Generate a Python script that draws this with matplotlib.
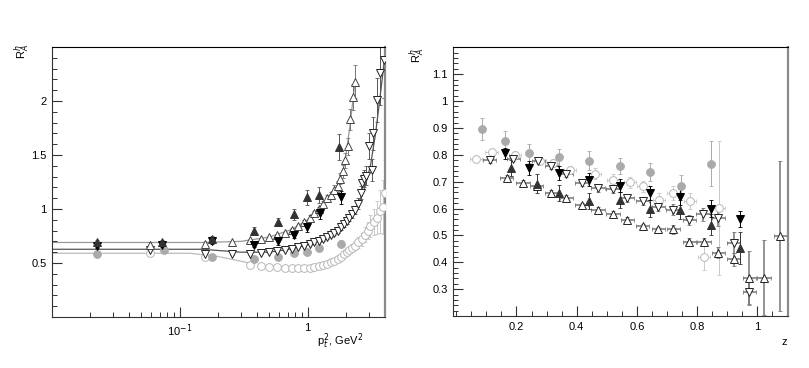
import numpy as np
import matplotlib
matplotlib.use("Agg")
import matplotlib.pyplot as plt
from matplotlib.ticker import MultipleLocator, LogLocator, NullFormatter

plt.rcParams['font.family'] = ['Liberation Sans', 'DejaVu Sans']

# ---- left panel: R_A^h vs pt^2 ----
pt2_fill = [0.0225, 0.072, 0.18, 0.38, 0.585, 0.785, 0.995, 1.22, 1.75]
upf_l = [0.69, 0.69, 0.72, 0.80, 0.88, 0.95, 1.11, 1.13, 1.57]
upf_l_err = [0.02, 0.02, 0.03, 0.03, 0.04, 0.05, 0.07, 0.07, 0.12]
pt2_dnf = [0.0225, 0.072, 0.18, 0.38, 0.585, 0.785, 0.995, 1.24, 1.82]
dnf_l = [0.66, 0.67, 0.70, 0.67, 0.70, 0.76, 0.83, 0.96, 1.11]
dnf_l_err = [0.02, 0.02, 0.02, 0.02, 0.03, 0.03, 0.04, 0.05, 0.06]
pt2_circf = [0.0225, 0.075, 0.18, 0.38, 0.585, 0.785, 0.995, 1.22, 1.82]
circf_l = [0.58, 0.62, 0.56, 0.54, 0.56, 0.59, 0.60, 0.64, 0.68]
circf_l_err = [0.02, 0.02, 0.02, 0.02, 0.02, 0.02, 0.02, 0.03, 0.03]

pt2_upo = [0.058, 0.158, 0.255, 0.357, 0.43, 0.50, 0.58, 0.66, 0.75, 0.84, 0.94,
           1.04, 1.13, 1.22, 1.32, 1.42, 1.52, 1.62, 1.72, 1.80, 1.88, 1.96,
           2.07, 2.16, 2.26, 2.36]
upo_l = [0.665, 0.68, 0.69, 0.71, 0.72, 0.74, 0.76, 0.78, 0.81, 0.84, 0.88,
         0.92, 0.96, 1.00, 1.05, 1.10, 1.13, 1.18, 1.21, 1.28, 1.35, 1.45,
         1.58, 1.83, 2.04, 2.18]
upo_l_err = [0.03, 0.01, 0.01, 0.01, 0.01, 0.01, 0.01, 0.01, 0.01, 0.015, 0.015,
             0.02, 0.02, 0.02, 0.025, 0.03, 0.03, 0.04, 0.05, 0.05, 0.06, 0.07,
             0.08, 0.10, 0.12, 0.15]

pt2_dno = [0.058, 0.158, 0.255, 0.357, 0.43, 0.50, 0.58, 0.66, 0.75, 0.84, 0.94,
           1.04, 1.13, 1.22, 1.32, 1.42, 1.52, 1.62, 1.72, 1.82, 1.92, 2.02,
           2.12, 2.22, 2.35, 2.5, 2.6, 2.68, 2.77, 2.88, 3.0, 3.18, 3.25,
           3.49, 3.70, 3.93]
dno_l = [0.62, 0.585, 0.58, 0.585, 0.59, 0.60, 0.61, 0.62, 0.63, 0.645, 0.66,
         0.675, 0.69, 0.705, 0.72, 0.74, 0.76, 0.78, 0.80, 0.83, 0.86, 0.89,
         0.92, 0.95, 0.99, 1.05, 1.15, 1.24, 1.28, 1.31, 1.58, 1.36, 1.70,
         2.01, 2.26, 2.38]
dno_l_err = [0.03, 0.01, 0.01, 0.01, 0.01, 0.01, 0.01, 0.01, 0.01, 0.01, 0.01,
             0.01, 0.01, 0.015, 0.015, 0.015, 0.02, 0.02, 0.02, 0.02, 0.025, 0.03,
             0.03, 0.035, 0.04, 0.05, 0.06, 0.07, 0.08, 0.09, 0.12, 0.1, 0.15,
             0.2, 0.3, 0.35]

pt2_circo = [0.058, 0.158, 0.357, 0.43, 0.5, 0.58, 0.66, 0.75, 0.84, 0.94, 1.04,
             1.13, 1.22, 1.32, 1.42, 1.52, 1.62, 1.72, 1.82, 1.92, 2.02, 2.12,
             2.22, 2.35, 2.5, 2.65, 2.8, 2.95, 3.1, 3.3, 3.5, 3.7, 3.9, 4.0]
circo_l = [0.59, 0.56, 0.48, 0.47, 0.465, 0.46, 0.455, 0.45, 0.45, 0.45, 0.455,
           0.46, 0.47, 0.48, 0.49, 0.51, 0.52, 0.54, 0.56, 0.58, 0.60, 0.62,
           0.64, 0.66, 0.69, 0.72, 0.76, 0.80, 0.84, 0.88, 0.92, 0.98, 1.02, 1.15]
circo_l_err = [0.02, 0.01, 0.01, 0.01, 0.01, 0.01, 0.01, 0.01, 0.01, 0.01, 0.01,
               0.01, 0.01, 0.01, 0.015, 0.015, 0.02, 0.02, 0.02, 0.025, 0.03, 0.03,
               0.035, 0.04, 0.05, 0.06, 0.07, 0.08, 0.1, 0.12, 0.15, 0.2, 0.25, 0.3]

# fit curves
fit_up_x = [0.01, 0.15, 0.3, 0.5, 0.75, 1.0, 1.25, 1.5, 1.75, 1.95, 2.15, 2.36]
fit_up_y = [0.69, 0.69, 0.70, 0.74, 0.81, 0.90, 1.01, 1.12, 1.24, 1.42, 1.78, 2.2]
fit_dn_x = [0.01, 0.15, 0.3, 0.5, 0.75, 1.0, 1.5, 2.0, 2.5, 2.8, 3.1, 3.4, 3.7, 4.0]
fit_dn_y = [0.627, 0.627, 0.60, 0.60, 0.63, 0.67, 0.76, 0.88, 1.05, 1.2, 1.4, 1.7, 2.05, 2.4]
fit_ci_x = [0.01, 0.12, 0.2, 0.35]
fit_ci_y = [0.59, 0.59, 0.56, 0.5]

# ---- right panel: R_A^h vs z ----
z_circf = [0.087, 0.161, 0.242, 0.342, 0.442, 0.545, 0.645, 0.745, 0.847]
circf_r = [0.896, 0.852, 0.806, 0.79, 0.778, 0.757, 0.736, 0.685, 0.767]
circf_r_err = [0.04, 0.035, 0.035, 0.03, 0.035, 0.03, 0.035, 0.04, 0.085]

z_dnf = [0.161, 0.242, 0.342, 0.442, 0.545, 0.645, 0.743, 0.845, 0.942]
dnf_r = [0.806, 0.75, 0.732, 0.707, 0.685, 0.658, 0.642, 0.60, 0.56]
dnf_r_err = [0.02, 0.025, 0.025, 0.025, 0.025, 0.025, 0.03, 0.03, 0.03]

z_upf = [0.183, 0.267, 0.342, 0.442, 0.545, 0.643, 0.743, 0.845, 0.942]
upf_r = [0.75, 0.693, 0.658, 0.627, 0.633, 0.60, 0.596, 0.54, 0.454]
upf_r_err = [0.03, 0.035, 0.03, 0.03, 0.03, 0.03, 0.035, 0.04, 0.06]

z_circo = [0.067, 0.117, 0.194, 0.278, 0.32, 0.377, 0.46, 0.522, 0.576, 0.62,
           0.672, 0.72, 0.776, 0.822, 0.872]
circo_r = [0.784, 0.812, 0.80, 0.778, 0.77, 0.744, 0.73, 0.707, 0.698, 0.683,
           0.633, 0.658, 0.627, 0.42, 0.603]
circo_r_err = [0.01, 0.01, 0.015, 0.015, 0.015, 0.015, 0.02, 0.02, 0.02, 0.02,
               0.025, 0.025, 0.03, 0.05, 0.25]

z_dno = [0.111, 0.19, 0.272, 0.316, 0.366, 0.416, 0.471, 0.521, 0.568, 0.619,
         0.671, 0.719, 0.774, 0.82, 0.87, 0.922, 0.973]
dno_r = [0.779, 0.785, 0.778, 0.757, 0.728, 0.695, 0.678, 0.673, 0.64, 0.627,
         0.606, 0.596, 0.557, 0.578, 0.566, 0.473, 0.29]
dno_r_err = [0.01, 0.01, 0.01, 0.01, 0.01, 0.01, 0.015, 0.015, 0.015, 0.015,
             0.015, 0.02, 0.02, 0.025, 0.03, 0.04, 0.05]

z_upo = [0.167, 0.222, 0.267, 0.316, 0.366, 0.416, 0.471, 0.521, 0.568, 0.619,
         0.671, 0.721, 0.774, 0.823, 0.87, 0.922, 0.973, 1.022, 1.076]
upo_r = [0.714, 0.695, 0.683, 0.658, 0.64, 0.612, 0.596, 0.581, 0.559, 0.534,
         0.522, 0.522, 0.475, 0.475, 0.436, 0.411, 0.343, 0.343, 0.497]
upo_r_err = [0.01, 0.01, 0.01, 0.01, 0.01, 0.01, 0.01, 0.01, 0.01, 0.01,
             0.01, 0.015, 0.015, 0.015, 0.02, 0.025, 0.1, 0.14, 0.28]

fig = plt.figure(figsize=(8.09, 3.68), dpi=100)
axL = fig.add_axes([0.0643, 0.1386, 0.4116, 0.7337])
axR = fig.add_axes([0.5603, 0.1413, 0.4141, 0.7302])

ms = 5.6
def pts(ax, x, y, err, marker, face, edge, ecol, xerr=None, lw=0.7):
    ax.errorbar(x, y, yerr=err, xerr=xerr, fmt='none', ecolor=ecol, elinewidth=lw,
                capsize=1.3, capthick=0.6, zorder=2)
    ax.plot(x, y, linestyle='none', marker=marker, ms=ms, mfc=face, mec=edge,
            mew=0.7, zorder=3)

# left panel
axL.plot(fit_up_x, fit_up_y, color='#999999', lw=0.9, zorder=1)
axL.plot(fit_dn_x, fit_dn_y, color='#555555', lw=0.9, zorder=1)
axL.plot(fit_ci_x, fit_ci_y, color='#bbbbbb', lw=0.9, zorder=1)
pts(axL, pt2_circo, circo_l, circo_l_err, 'o', 'white', '#b8b8b8', '#c8c8c8')
pts(axL, pt2_circf, circf_l, circf_l_err, 'o', '#aaaaaa', '#aaaaaa', '#aaaaaa')
pts(axL, pt2_dno, dno_l, dno_l_err, 'v', 'white', '#222222', '#555555')
pts(axL, pt2_upo, upo_l, upo_l_err, '^', 'white', '#444444', '#777777')
pts(axL, pt2_dnf, dnf_l, dnf_l_err, 'v', '#000000', '#000000', '#000000')
pts(axL, pt2_fill, upf_l, upf_l_err, '^', '#333333', '#333333', '#555555')

axL.set_xscale('log')
axL.set_xlim(0.01, 4.03)
axL.set_ylim(0.0, 2.5)
axL.set_xticks([0.1, 1])
axL.set_xticklabels(['10$^{-1}$', '1'])
axL.xaxis.set_minor_locator(LogLocator(base=10, subs=np.arange(2, 10)))
axL.xaxis.set_minor_formatter(NullFormatter())
axL.yaxis.set_minor_locator(MultipleLocator(0.1))
axL.set_yticks([0.5, 1, 1.5, 2])
axL.set_yticklabels(['0.5', '1', '1.5', '2'])

# right panel
pts(axR, z_circo, circo_r, circo_r_err, 'o', 'white', '#b8b8b8', '#c8c8c8', xerr=0.02)
pts(axR, z_circf, circf_r, circf_r_err, 'o', '#aaaaaa', '#aaaaaa', '#aaaaaa')
pts(axR, z_upo, upo_r, upo_r_err, '^', 'white', '#222222', '#777777', xerr=0.022, lw=1.1)
pts(axR, z_dno, dno_r, dno_r_err, 'v', 'white', '#222222', '#777777', xerr=0.022, lw=1.1)
pts(axR, z_upf, upf_r, upf_r_err, '^', '#333333', '#333333', '#333333')
pts(axR, z_dnf, dnf_r, dnf_r_err, 'v', '#000000', '#000000', '#000000')

axR.set_xlim(-0.01, 1.103)
axR.set_ylim(0.2, 1.2)
axR.set_xticks([0.2, 0.4, 0.6, 0.8, 1.0])
axR.set_xticklabels(['0.2', '0.4', '0.6', '0.8', '1'])
axR.xaxis.set_minor_locator(MultipleLocator(0.05))
axR.set_yticks([0.3, 0.4, 0.5, 0.6, 0.7, 0.8, 0.9, 1.0, 1.1])
axR.set_yticklabels(['0.3', '0.4', '0.5', '0.6', '0.7', '0.8', '0.9', '1', '1.1'])
axR.yaxis.set_minor_locator(MultipleLocator(0.02))

for ax in (axL, axR):
    ax.tick_params(which='both', direction='in', top=False, right=False,
                   labelsize=8, color='#333333', pad=4)
    ax.tick_params(which='major', length=7, width=0.8)
    ax.tick_params(which='minor', length=3.5, width=0.7)
    ax.spines['left'].set_color('#333333')
    ax.spines['bottom'].set_color('#333333')
    ax.spines['top'].set_color('#000000')
    ax.spines['right'].set_color('#8a8a8a')
    ax.spines['right'].set_linewidth(1.6)

fig.text(0.027, 0.86, 'R$_A^h$', rotation=90, fontsize=8, ha='center', va='center')
fig.text(0.516, 0.85, 'R$_A^h$', rotation=90, fontsize=8, ha='center', va='center')
fig.text(0.42, 0.072, 'p$_t^2$, GeV$^2$', fontsize=8, ha='center', va='center')
fig.text(0.969, 0.072, 'z', fontsize=8, ha='center', va='center')

fig.savefig('out.png', dpi=100)
